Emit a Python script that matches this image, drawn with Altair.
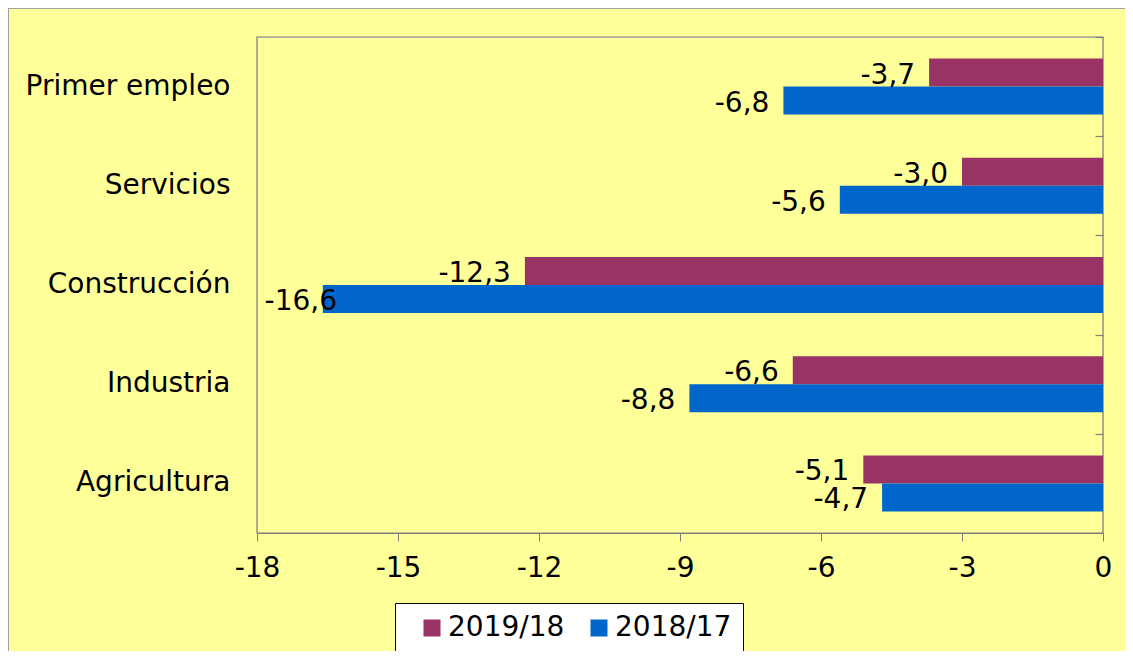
import altair as alt
import pandas as pd

categories = ["Primer empleo", "Servicios", "Construcción", "Industria", "Agricultura"]
series = ["2019/18", "2018/17"]
values_2019_18 = [-3.7, -3.0, -12.3, -6.6, -5.1]
values_2018_17 = [-6.8, -5.6, -16.6, -8.8, -4.7]
x_ticks = [-18, -15, -12, -9, -6, -3, 0]
colors = ["#993366", "#0066CC"]

rows = []
for c, a, b in zip(categories, values_2019_18, values_2018_17):
    rows.append({"cat": c, "serie": series[0], "v": a, "lab": f"{a:.1f}".replace(".", ",")})
    rows.append({"cat": c, "serie": series[1], "v": b, "lab": f"{b:.1f}".replace(".", ",")})
df = pd.DataFrame(rows)

FONT = "DejaVu Sans"
FS = 28
W, H = 846, 496
LINE = "#7F7F7F"

yscale = alt.Scale(paddingInner=0.435, paddingOuter=0.2175)
xscale = alt.Scale(domain=[-18, 0], nice=False, zero=False)

base = alt.Chart(df)

bars = base.mark_bar(size=28).encode(
    x=alt.X("v:Q", scale=xscale,
            axis=alt.Axis(title=None, values=x_ticks, grid=False, domain=True,
                          domainColor=LINE, tickColor=LINE, tickSize=8,
                          labelFontSize=FS, labelColor="black", labelPadding=13,
                          labelFlush=False,
                          labelExpr="datum.value + ''", labelFont=FONT)),
    x2=alt.datum(0),
    y=alt.Y("cat:N", sort=categories, scale=yscale,
            axis=alt.Axis(title=None, ticks=False, domain=False, labelFontSize=FS,
                          labelColor="black", labelPadding=27, labelFont=FONT,
                          labelLimit=400)),
    yOffset=alt.YOffset("serie:N", sort=series, scale=alt.Scale(paddingInner=0, paddingOuter=0)),
    color=alt.Color("serie:N", sort=series,
                    scale=alt.Scale(domain=series, range=colors),
                    legend=alt.Legend(title=None, orient="none", legendX=138, legendY=566,
                                      direction="horizontal", symbolType="square",
                                      symbolSize=289, symbolStrokeWidth=0,
                                      labelFontSize=FS, labelColor="black", labelFont=FONT,
                                      fillColor="white", strokeColor="black",
                                      padding=11, columnPadding=8, labelOffset=2,
                                      symbolOffset=12)),
)

labels = base.transform_calculate(
    lx="max(datum.v, -16)"
).mark_text(align="right", baseline="middle", dx=-14, dy=3, fontSize=FS,
            font=FONT, color="black").encode(
    x=alt.X("lx:Q", scale=xscale),
    y=alt.Y("cat:N", sort=categories, scale=yscale, axis=None),
    yOffset=alt.YOffset("serie:N", sort=series),
    text="lab:N",
)

# invisible layer that only carries the inner tick marks of the vertical axis at 0
tick_axis = base.mark_point(opacity=0).encode(
    x=alt.X("v:Q", scale=xscale),
    y=alt.Y("cat:N", sort=categories,
            scale=alt.Scale(paddingInner=0, paddingOuter=0),
            axis=alt.Axis(title=None, orient="right", labels=False, domain=False,
                          ticks=True, tickBand="extent", tickSize=8, offset=-8,
                          tickColor=LINE, tickWidth=1.2)),
)

one = pd.DataFrame({"a": [0]})
frame = alt.Chart(one).mark_rect(
    fill=None, stroke="#A0A0A0", strokeWidth=2, clip=False
).encode(
    x=alt.value(-249), x2=alt.value(W + 60),
    y=alt.value(-29), y2=alt.value(H + 200),
)
plot_frame = alt.Chart(one).mark_rect(
    fill=None, stroke=LINE, strokeWidth=1.2, clip=False
).encode(
    x=alt.value(0), x2=alt.value(W),
    y=alt.value(0), y2=alt.value(H),
)

chart = alt.layer(frame, plot_frame, bars, labels, tick_axis).resolve_scale(
    y="independent"
).resolve_axis(y="independent").properties(
    width=W, height=H,
    background="#FFFF99",
    padding={"left": 249, "top": 29, "right": 22, "bottom": 118},
    autosize=alt.AutoSizeParams(type="none"),
).configure_view(
    stroke=None, fill="#FFFF99"
).configure(font=FONT)

chart.save("out.html", embed_options={"renderer": "svg", "actions": False})
